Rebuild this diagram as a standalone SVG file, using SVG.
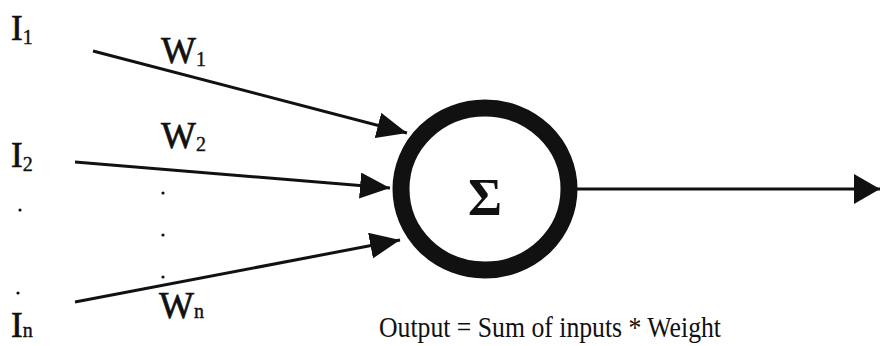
<svg xmlns="http://www.w3.org/2000/svg" width="880" height="346" viewBox="0 0 880 346">
<defs>
<style>
.lbl{font-family:"Liberation Serif","Times New Roman",serif;fill:#111}
.big{font-size:35px;stroke:#111;stroke-width:0.7}
.w{font-size:37px}
.edge{stroke:#111;stroke-width:3;fill:none}
</style>
<marker id="ah" markerUnits="userSpaceOnUse" markerWidth="32" markerHeight="26" refX="30" refY="13" orient="auto" viewBox="0 0 32 26">
<path d="M0,0 L30,13 L0,26 z" fill="#111"/>
</marker>
<marker id="ah2" markerUnits="userSpaceOnUse" markerWidth="28" markerHeight="30" refX="26" refY="15" orient="auto" viewBox="0 0 28 30">
<path d="M0,0 L26,15 L0,30 z" fill="#111"/>
</marker>
</defs>
<rect width="880" height="346" fill="#fff"/>
<g id="connectors">
<line class="edge" x1="93" y1="51" x2="407" y2="133" marker-end="url(#ah)"/>
<line class="edge" x1="75" y1="162" x2="390" y2="188" marker-end="url(#ah)"/>
<line class="edge" x1="75" y1="302" x2="400" y2="240" marker-end="url(#ah)"/>
<line class="edge" x1="576" y1="189" x2="880" y2="189" marker-end="url(#ah2)"/>
</g>
<g id="node-sum">
<ellipse cx="485" cy="189" rx="84" ry="81" fill="#fff" stroke="#111" stroke-width="17"/>
<text x="485" y="215" text-anchor="middle" class="lbl" font-size="52" font-weight="bold">Σ</text>
</g>
<g id="input-1">
<text x="11" y="40" class="lbl big">I<tspan font-size="20" stroke-width="0.4" dy="4">1</tspan></text>
</g>
<g id="input-2">
<text x="11" y="167" class="lbl big">I<tspan font-size="20" stroke-width="0.4" dy="4">2</tspan></text>
</g>
<g id="input-n">
<text x="11" y="337" class="lbl big">I<tspan font-size="20" stroke-width="0.4">n</tspan></text>
</g>
<g id="weights">
<text x="161" y="63" class="lbl big w">W<tspan font-size="20" stroke-width="0.4" dy="3">1</tspan></text>
<text x="161" y="148" class="lbl big w">W<tspan font-size="20" stroke-width="0.4" dy="3">2</tspan></text>
<text x="159" y="318" class="lbl big w">W<tspan font-size="20" stroke-width="0.4">n</tspan></text>
</g>
<g id="dots" fill="#111">
<circle cx="20" cy="210" r="1.6"/>
<circle cx="18" cy="293" r="1.6"/>
<circle cx="163" cy="193" r="1.6"/>
<circle cx="163" cy="235" r="1.6"/>
<circle cx="163" cy="277" r="1.6"/>
</g>
<g id="caption">
<text x="379" y="337" class="lbl" font-size="29" textLength="342" lengthAdjust="spacingAndGlyphs">Output = Sum of inputs * Weight</text>
</g>
</svg>
